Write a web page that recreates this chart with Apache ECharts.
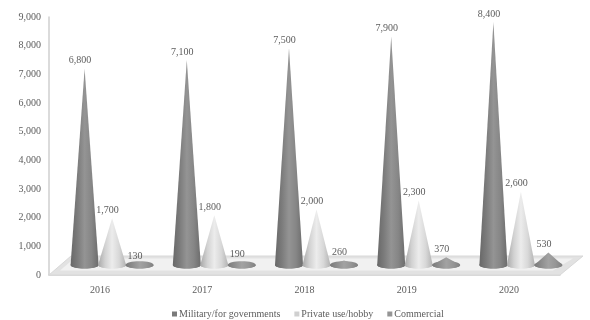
<!DOCTYPE html>
<html>
<head>
<meta charset="utf-8">
<style>html,body{margin:0;padding:0;background:#fff}#chart{width:590px;height:320px}</style>
<script src="https://cdn.jsdelivr.net/npm/echarts@6/dist/echarts.min.js"></script>
</head>
<body>
<div id="chart"></div>
<script>
const years = ['2016', '2017', '2018', '2019', '2020'];
const military = [6800, 7100, 7500, 7900, 8400];
const privateUse = [1700, 1800, 2000, 2300, 2600];
const commercial = [130, 190, 260, 370, 530];
const seriesNames = ['Military/for governments', 'Private use/hobby', 'Commercial'];
const yTicks = [0, 1000, 2000, 3000, 4000, 5000, 6000, 7000, 8000, 9000];

const TEXT = '#5c5c5c';
const FONT = '"Liberation Serif", serif';

function shade(stops) {
  return {
    type: 'linear', x: 0, y: 0, x2: 1, y2: 0,
    colorStops: stops.map((c, i) => ({ offset: i / (stops.length - 1), color: c }))
  };
}
const coneShades = [
  shade(['#686868', '#7c7c7c', '#949494', '#868686', '#6c6c6c']),
  shade(['#a8a8a8', '#d2d2d2', '#ececec', '#d8d8d8', '#b2b2b2']),
  shade(['#7a7a7a', '#8e8e8e', '#a2a2a2', '#969696', '#808080'])
];
const legendColors = ['#7a7a7a', '#d0d0d0', '#959595'];

// Cone on the raised plane: elliptical base, straight sides, value at the tip.
function coneSeries(idx, values) {
  const shift = (idx - 1) * 27.5;
  return {
    name: seriesNames[idx],
    type: 'custom',
    xAxisIndex: 1,
    yAxisIndex: 1,
    z: 5,
    itemStyle: { color: legendColors[idx] },
    encode: { x: 0, y: 1 },
    data: values.map((v, i) => [years[i], v]),
    renderItem(params, api) {
      const tip = api.coord([api.value(0), api.value(1)]);
      const base = api.coord([api.value(0), 0]);
      const cx = tip[0] + shift;
      const hw = 14, ry = 3.6;
      const by = base[1] - ry + 0.5;
      const pts = [[cx, tip[1]]];
      for (let a = 0; a <= 180; a += 10) {
        const r = a * Math.PI / 180;
        pts.push([cx + hw * Math.cos(r), by + ry * Math.sin(r)]);
      }
      return {
        type: 'group',
        children: [
          { type: 'ellipse', shape: { cx: cx, cy: by, rx: hw, ry: ry }, style: { fill: coneShades[idx] } },
          { type: 'polygon', shape: { points: pts }, style: { fill: coneShades[idx] } },
          {
            type: 'text',
            style: {
              x: cx - 4.5, y: tip[1] - 8, text: api.value(1).toLocaleString('en-US'),
              fill: TEXT, font: '10px ' + FONT, align: 'center', verticalAlign: 'middle'
            }
          }
        ]
      };
    }
  };
}

const chart = echarts.init(document.getElementById('chart'));
chart.setOption({
  animation: false,
  backgroundColor: '#fff',
  grid: [
    { left: 49, right: 30, top: 17, bottom: 45 },
    { left: 61, right: 18, top: 4.3, bottom: 52 }
  ],
  xAxis: [
    {
      type: 'category', data: years, gridIndex: 0,
      axisLine: { lineStyle: { color: '#cfcfcf', width: 1.5 } },
      axisTick: { show: false },
      axisLabel: { color: TEXT, fontFamily: FONT, fontSize: 10, margin: 10 }
    },
    { type: 'category', data: years, gridIndex: 1, show: false }
  ],
  yAxis: [
    {
      type: 'value', min: 0, max: 9000, interval: 1000, gridIndex: 0,
      axisLine: { show: true, lineStyle: { color: '#cfcfcf', width: 1.5 } },
      axisTick: { show: false },
      splitLine: { show: false },
      axisLabel: {
        color: TEXT, fontFamily: FONT, fontSize: 10, margin: 8,
        formatter: v => yTicks.includes(v) ? v.toLocaleString('en-US') : ''
      }
    },
    { type: 'value', min: 0, max: 9000, gridIndex: 1, show: false }
  ],
  legend: {
    data: seriesNames,
    top: 304, left: 167,
    icon: 'rect', itemWidth: 5, itemHeight: 5, itemGap: 14,
    textStyle: { color: TEXT, fontFamily: FONT, fontSize: 10, padding: [0, 0, 0, -3] }
  },
  // Floor of the plot: a sheared light plate with a white rim.
  graphic: [
    {
      type: 'polygon', z: 1, silent: true,
      shape: { points: [[49, 275], [71, 256], [583, 256], [560, 275]] },
      style: { fill: '#e2e2e2', stroke: '#d8d8d8', lineWidth: 1 }
    },
    {
      type: 'polygon', z: 1, silent: true,
      shape: { points: [[60, 270.5], [74, 258.5], [573, 258.5], [553, 270.5]] },
      style: { fill: '#f1f1f1' }
    }
  ],
  series: [
    coneSeries(0, military),
    coneSeries(1, privateUse),
    coneSeries(2, commercial)
  ]
});
</script>
</body>
</html>
